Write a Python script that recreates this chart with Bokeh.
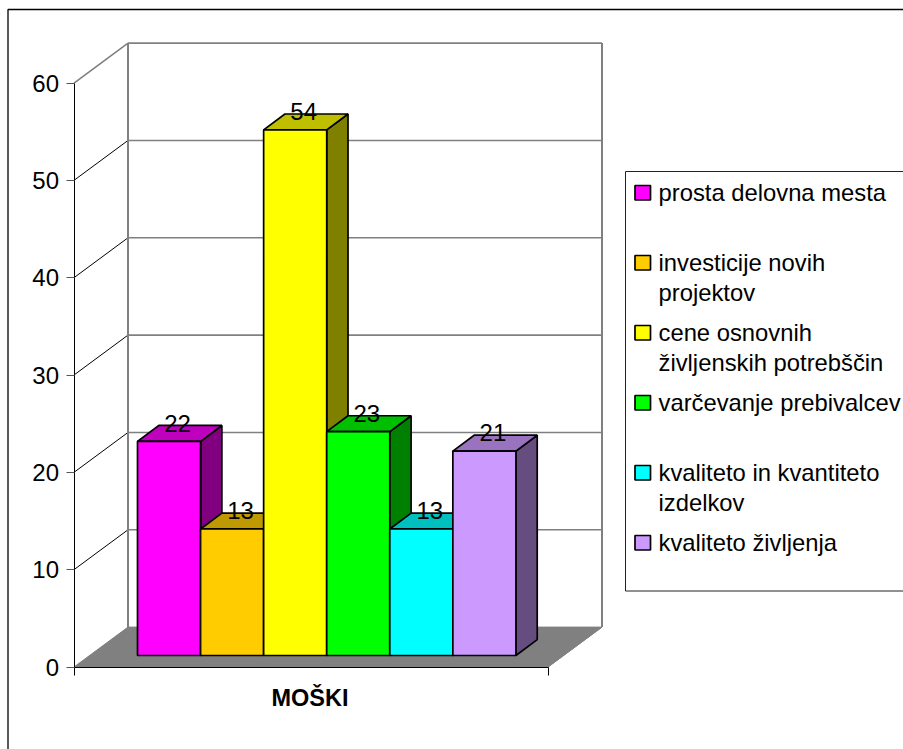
from bokeh.plotting import figure
from bokeh.embed import file_html
from bokeh.resources import INLINE
from bokeh.core.properties import value
from bokeh.models import FixedTicker, Range1d, LinearAxis

# ---- data ----
group_label = "MOŠKI"
series_names = ["prosta delovna mesta", "investicije novih\nprojektov",
                "cene osnovnih\nživljenskih potrebščin", "varčevanje prebivalcev",
                "kvaliteto in kvantiteto\nizdelkov", "kvaliteto življenja"]
series_values = [22, 13, 54, 23, 13, 21]
front_colors = ["#FF00FF", "#FFCC00", "#FFFF00", "#00FF00", "#00FFFF", "#CC99FF"]
top_colors = ["#BF00BF", "#BF9900", "#BFBF00", "#00BF00", "#00BFBF", "#9973BF"]
side_colors = ["#800080", "#806600", "#808000", "#008000", "#008080", "#664D80"]
y_ticks = [0, 10, 20, 30, 40, 50, 60]

# ---- layout (page pixels) ----
W, H = 903, 749
LEFT, BOTTOM = 73.5, 666.5      # page pixel of the axes' origin
PX_PER_UNIT = 9.733             # pixels per value unit
FONT = "Liberation Sans"

def X(px):
    return px - LEFT

def Y(py):
    return (BOTTOM - py) / PX_PER_UNIT

axis_len = 474
wall_dx, wall_dy = 54, 39.9 / PX_PER_UNIT
bar_x0, bar_w = X(137.0), 63.07
bar_base = Y(655)
bar_dx, bar_dy = 21.3, 15.9 / PX_PER_UNIT

p = figure(width=W, height=H, output_backend="svg", toolbar_location=None,
           x_range=Range1d(X(0), X(W)), y_range=Range1d(Y(H), Y(0)),
           x_axis_type=None, y_axis_type=None,
           min_border_left=0, min_border_right=0, min_border_top=0, min_border_bottom=0)
p.outline_line_color = None
p.grid.visible = False

# page frame
p.quad(left=[X(7.5)], right=[X(1200)], top=[Y(9)], bottom=[Y(1200)],
       fill_color=None, line_color="#000000", line_width=1.3)

# floor
p.patch([0, wall_dx, axis_len + wall_dx, axis_len],
        [0, wall_dy, wall_dy, 0], fill_color="#808080", line_color="#808080", line_width=1)

# walls and gridlines
for v in y_ticks[1:]:
    p.line([wall_dx, axis_len + wall_dx], [v + wall_dy, v + wall_dy], line_color="#808080", line_width=1.6)
for v in y_ticks[1:-1]:
    p.line([0, wall_dx], [v, v + wall_dy], line_color="#000000", line_width=1)
p.line([0, wall_dx], [60, 60 + wall_dy], line_color="#808080", line_width=1.6)
p.line([wall_dx, wall_dx], [wall_dy, 60 + wall_dy], line_color="#808080", line_width=2)
p.line([axis_len + wall_dx, axis_len + wall_dx], [wall_dy, 60 + wall_dy], line_color="#808080", line_width=2)
p.line([axis_len, axis_len + wall_dx], [0, wall_dy], line_color="#808080", line_width=1)

# 3-D bars, left to right
for i, v in enumerate(series_values):
    x0, x1 = bar_x0 + i * bar_w, bar_x0 + (i + 1) * bar_w
    y0, y1 = bar_base, bar_base + v
    p.patch([x1, x1 + bar_dx, x1 + bar_dx, x1], [y0, y0 + bar_dy, y1 + bar_dy, y1],
            fill_color=side_colors[i], line_color="#000000", line_width=1.7)
    p.patch([x0, x1, x1 + bar_dx, x0 + bar_dx], [y1, y1, y1 + bar_dy, y1 + bar_dy],
            fill_color=top_colors[i], line_color="#000000", line_width=1.7)
    p.patch([x0, x1, x1, x0], [y0, y0, y1, y1],
            fill_color=front_colors[i], line_color="#000000", line_width=1.7)

# value labels
p.text([bar_x0 + (i + 0.5) * bar_w + 8.5 for i in range(6)],
       [bar_base + v + 18.2 / PX_PER_UNIT for v in series_values],
       text=[str(v) for v in series_values],
       text_font=value(FONT), text_font_size="24px", text_color="#000000",
       text_align="center", text_baseline="middle")

# legend
LEG_L, LEG_T, LEG_B = 625, 171, 590.5
p.quad(left=[X(LEG_L)], right=[X(1200)], top=[Y(LEG_T)], bottom=[Y(LEG_B)],
       fill_color="#FFFFFF", line_color="#222222", line_width=1)
for i, name in enumerate(series_names):
    cy = 192 + 70 * i
    p.quad(left=[X(634.5)], right=[X(650)], top=[Y(cy - 7)], bottom=[Y(cy + 7.5)],
           fill_color=front_colors[i], line_color="#000000", line_width=1.7)
    for j, line in enumerate(name.split("\n")):
        p.text([X(658)], [Y(cy - 0.5 + 30 * j)], text=[line], text_font=value(FONT),
               text_font_size="23.8px", text_color="#000000",
               text_align="left", text_baseline="middle")

# axes
xa = LinearAxis(fixed_location=0, ticker=FixedTicker(ticks=[0, axis_len]),
                major_label_overrides={0: "", axis_len: ""}, bounds=(0, axis_len),
                major_tick_in=0, major_tick_out=8, minor_tick_in=0, minor_tick_out=0,
                axis_line_color="#000000", major_tick_line_color="#000000")
p.add_layout(xa, "below")

ya = LinearAxis(fixed_location=0, ticker=FixedTicker(ticks=y_ticks), bounds=(0, 60),
                major_tick_in=0, major_tick_out=8, minor_tick_in=0, minor_tick_out=0,
                axis_line_color="#000000", major_tick_line_color="#555555",
                major_label_text_font=FONT, major_label_text_font_size="24px",
                major_label_text_color="#000000", major_label_standoff=7)
p.add_layout(ya, "left")

p.text([X(309.5)], [Y(697)], text=[group_label], text_font=value(FONT),
       text_font_size="23.5px", text_font_style="bold", text_color="#000000",
       text_align="center", text_baseline="middle")

open("out.html", "w").write(file_html(p, INLINE))
